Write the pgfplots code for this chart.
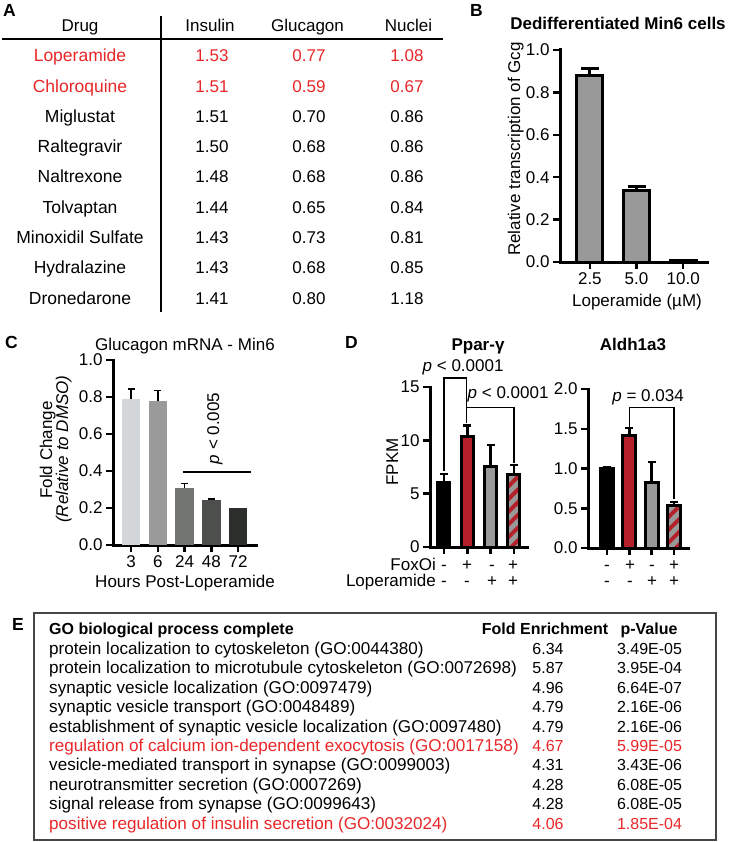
\documentclass[border=0pt]{standalone}
\usepackage{fontspec}
\setmainfont{Liberation Sans}
\usepackage{pgfplots}
\pgfplotsset{compat=1.18}
\usetikzlibrary{patterns.meta}

\definecolor{tred}{RGB}{232,38,40}
\definecolor{bred}{RGB}{180,32,42}
\definecolor{bgray}{RGB}{153,153,153}
\definecolor{cA}{RGB}{212,215,218}
\definecolor{cB}{RGB}{154,154,154}
\definecolor{cC}{RGB}{115,117,115}
\definecolor{cD}{RGB}{76,79,76}
\definecolor{cE}{RGB}{45,47,45}
\definecolor{boxgray}{RGB}{70,70,70}

\newcommand{\fs}{\fontsize{17}{20}\selectfont}
\newcommand{\fa}{\fontsize{17.5}{20}\selectfont}
\newcommand{\fe}{\fontsize{16}{19}\selectfont}
\newcommand{\fet}{\fontsize{17.1}{19}\selectfont}

\pgfplotsset{
  prism/.style={
    scale only axis,
    axis x line*=bottom,
    axis y line*=left,
    axis line style={line width=3pt, line cap=rect},
    tick style={line width=2.5pt, black},
    tick align=outside,
    major tick length=7pt,
    tick label style={font=\fs},
    /pgf/number format/assume math mode=true,
    clip=false,
  },
  onedec/.style={yticklabel style={/pgf/number format/.cd, fixed, fixed zerofill, precision=1}},
  signs/.style={xtick={0,1,2,3}, xticklabels={,,,}},
  errup/.style 2 args={
    error bars/y dir=plus, error bars/y explicit,
    error bars/error bar style={line width=#1, black},
    error bars/error mark options={rotate=90, mark size=#2, line width=#1, black}},
  dbar/.style={ybar, bar shift=0pt, draw=black, line width=3pt, errup={2.5pt}{4pt}},
}

\begin{document}
\begin{tikzpicture}
\useasboundingbox (0pt,0pt) rectangle (731pt,-842pt);

% ---------- B ----------
\begin{axis}[prism, onedec, at={(560pt,-262pt)}, anchor=south west,
  width=147pt, height=212pt,
  xmin=0.36, xmax=3.51, ymin=0, ymax=1,
  xtick={1,2,3}, xticklabels={2.5,5.0,10.0},
  ytick={0,0.2,0.4,0.6,0.8,1}]
\addplot[ybar, bar shift=0pt, bar width=26pt, fill=bgray, draw=black, line width=3pt, errup={3pt}{9pt}]
  coordinates {(1,0.88) +- (0,0.033) (2,0.335) +- (0,0.022) (3,0.005) +- (0,0.003)};
\end{axis}

% ---------- C ----------
\begin{axis}[prism, onedec, at={(113pt,-545pt)}, anchor=south west,
  width=143pt, height=185pt,
  xmin=-0.673, xmax=4.673, ymin=0, ymax=1,
  xtick={0,1,2,3,4}, xticklabels={3,6,24,48,72},
  ytick={0,0.2,0.4,0.6,0.8,1}]
\addplot[ybar, bar shift=0pt, bar width=18.5pt, draw=none, fill=cA, errup={1.5pt}{3.5pt}] coordinates {(0,0.789) +- (0,0.053)};
\addplot[ybar, bar shift=0pt, bar width=18.5pt, draw=none, fill=cB, errup={1.5pt}{3.5pt}] coordinates {(1,0.78) +- (0,0.054)};
\addplot[ybar, bar shift=0pt, bar width=18.5pt, draw=none, fill=cC, errup={1.5pt}{3.5pt}] coordinates {(2,0.31) +- (0,0.023)};
\addplot[ybar, bar shift=0pt, bar width=18.5pt, draw=none, fill=cD, errup={1.5pt}{3.5pt}] coordinates {(3,0.242) +- (0,0.008)};
\addplot[ybar, bar shift=0pt, bar width=18.5pt, draw=none, fill=cE] coordinates {(4,0.2)};
\draw[line width=1.5pt] (axis cs:1.95,0.395) -- (axis cs:4.49,0.395);
\node[rotate=90, font=\fs] at (axis cs:3.14,0.63) {\textit{p} < 0.005};
\end{axis}

% ---------- D: Ppar-gamma ----------
\begin{axis}[prism, signs, at={(430pt,-547pt)}, anchor=south west,
  width=97pt, height=160pt,
  xmin=-0.6, xmax=3.56, ymin=0, ymax=15,
  ytick={0,5,10,15}]
\addplot[dbar, bar width=12pt, fill=black] coordinates {(0,6.07) +- (0,0.77)};
\addplot[dbar, bar width=12pt, fill=bred] coordinates {(1,10.4) +- (0,0.97)};
\addplot[dbar, bar width=12pt, fill=bgray] coordinates {(2,7.53) +- (0,2.03)};
\addplot[dbar, bar width=12pt, preaction={fill=bgray},
  preaction={pattern={Lines[angle=45, distance=9pt, line width=4pt]}, pattern color=bred}]
  coordinates {(3,6.84) +- (0,0.85)};
\draw[line width=1.2pt] (axis cs:0,7.1) -- (axis cs:0,15.84) -- (axis cs:0.95,15.84) -- (axis cs:0.95,11.6);
\draw[line width=1.2pt] (axis cs:0.95,13.1) -- (axis cs:3,13.1) -- (axis cs:3,7.9);
\node[font=\fs] at (axis cs:0.82,16.8) {\textit{p} < 0.0001};
\node[font=\fs] at (axis cs:2.75,14.3) {\textit{p} < 0.0001};
\end{axis}

% ---------- D: Aldh1a3 ----------
\begin{axis}[prism, signs, onedec, at={(588pt,-548pt)}, anchor=south west,
  width=100pt, height=159pt,
  xmin=-0.85, xmax=3.63, ymin=0, ymax=2,
  ytick={0,0.5,1,1.5,2}]
\addplot[dbar, bar width=13pt, fill=black] coordinates {(0,0.994) +- (0,0.025)};
\addplot[dbar, bar width=13pt, fill=bred] coordinates {(1,1.42) +- (0,0.09)};
\addplot[dbar, bar width=13pt, fill=bgray] coordinates {(2,0.82) +- (0,0.26)};
\addplot[dbar, bar width=13pt, preaction={fill=bgray},
  preaction={pattern={Lines[angle=45, distance=9pt, line width=4pt]}, pattern color=bred}]
  coordinates {(3,0.54) +- (0,0.04)};
\draw[line width=1.2pt] (axis cs:1,1.52) -- (axis cs:1,1.77) -- (axis cs:3,1.77) -- (axis cs:3,0.62);
\node[font=\fs] at (axis cs:1.84,1.9) {\textit{p} = 0.034};
\end{axis}

\begin{scope}[x=1pt, y=-1pt, every node/.style={font=\fs, inner sep=0pt}]
% panel letters
\node[anchor=base west, font=\fa\bfseries] at (3,17) {A};
\node[anchor=base west, font=\fa\bfseries] at (470,17) {B};
\node[anchor=base west, font=\fa\bfseries] at (5,348) {C};
\node[anchor=base west, font=\fa\bfseries] at (345,348) {D};
\node[anchor=base west, font=\fa\bfseries] at (12,630) {E};

% ---------- A: table ----------
\node[anchor=base] at (80,32) {Drug};
\node[anchor=base] at (210,32) {Insulin};
\node[anchor=base] at (307.5,32) {Glucagon};
\node[anchor=base] at (408.5,32) {Nuclei};
\draw[line width=1.5pt] (2,39) -- (443,39);
\draw[line width=1.5pt] (161,16) -- (161,312);
\foreach \n/\a/\b/\c/\col [count=\i from 0] in {
  Loperamide/1.53/0.77/1.08/tred,
  Chloroquine/1.51/0.59/0.67/tred,
  Miglustat/1.51/0.70/0.86/black,
  Raltegravir/1.50/0.68/0.86/black,
  Naltrexone/1.48/0.68/0.86/black,
  Tolvaptan/1.44/0.65/0.84/black,
  Minoxidil Sulfate/1.43/0.73/0.81/black,
  Hydralazine/1.43/0.68/0.85/black,
  Dronedarone/1.41/0.80/1.18/black}{
  \pgfmathsetmacro\yy{62+\i*30.25}
  \node[anchor=base, font=\fa, text=\col] at (80,\yy) {\n};
  \node[anchor=base, text=\col] at (212,\yy) {\a};
  \node[anchor=base, text=\col] at (309,\yy) {\b};
  \node[anchor=base, text=\col] at (407,\yy) {\c};
}

% ---------- B labels ----------
\node[anchor=base, font=\fs\bfseries] at (618,30) {Dedifferentiated Min6 cells};
\node[anchor=base, rotate=90] at (520,149) {Relative transcription of Gcg};
\node[anchor=base] at (637,306) {Loperamide (µM)};

% ---------- C labels ----------
\node[anchor=base] at (185,350) {Glucagon mRNA - Min6};
\node[anchor=base, rotate=90] at (52,450) {Fold Change};
\node[anchor=base, rotate=90] at (68,449) {\textit{(Relative to DMSO)}};
\node[anchor=base] at (185,587) {Hours Post-Loperamide};

% ---------- D labels ----------
\node[anchor=base, font=\fs\bfseries] at (478,350) {Ppar-γ};
\node[anchor=base, font=\fs\bfseries] at (633,350) {Aldh1a3};
\node[anchor=base, rotate=90] at (398,462) {FPKM};
\node[anchor=base east] at (436,570) {FoxOi};
\node[anchor=base east] at (436,586) {Loperamide};
\foreach \x/\s/\t in {444/-/-, 467/+/-, 492/-/+, 513/+/+, 607/-/-, 630/+/-, 652/-/+, 674/+/+}{
  \node[anchor=base] at (\x,570) {\s};
  \node[anchor=base] at (\x,586) {\t};
}

% ---------- E: table ----------
\draw[line width=2pt, boxgray] (34,613) rectangle (716,840);
\node[anchor=base west, font=\fe\bfseries] at (49,634.5) {GO biological process complete};
\node[anchor=base, font=\fe\bfseries] at (545,634.5) {Fold Enrichment};
\node[anchor=base, font=\fe\bfseries] at (649,634.5) {p-Value};
\foreach \n/\f/\p/\col [count=\i from 0] in {
  protein localization to cytoskeleton (GO:0044380)/6.34/3.49E-05/black,
  protein localization to microtubule cytoskeleton (GO:0072698)/5.87/3.95E-04/black,
  synaptic vesicle localization (GO:0097479)/4.96/6.64E-07/black,
  synaptic vesicle transport (GO:0048489)/4.79/2.16E-06/black,
  establishment of synaptic vesicle localization (GO:0097480)/4.79/2.16E-06/black,
  regulation of calcium ion-dependent exocytosis (GO:0017158)/4.67/5.99E-05/tred,
  vesicle-mediated transport in synapse (GO:0099003)/4.31/3.43E-06/black,
  neurotransmitter secretion (GO:0007269)/4.28/6.08E-05/black,
  signal release from synapse (GO:0099643)/4.28/6.08E-05/black,
  positive regulation of insulin secretion (GO:0032024)/4.06/1.85E-04/tred}{
  \pgfmathsetmacro\yy{654.5+\i*19.4}
  \node[anchor=base west, font=\fet, text=\col] at (49,\yy) {\n};
  \node[anchor=base, font=\fe, text=\col] at (548,\yy) {\f};
  \node[anchor=base, font=\fe, text=\col] at (649.5,\yy) {\p};
}
\end{scope}
\end{tikzpicture}
\end{document}
